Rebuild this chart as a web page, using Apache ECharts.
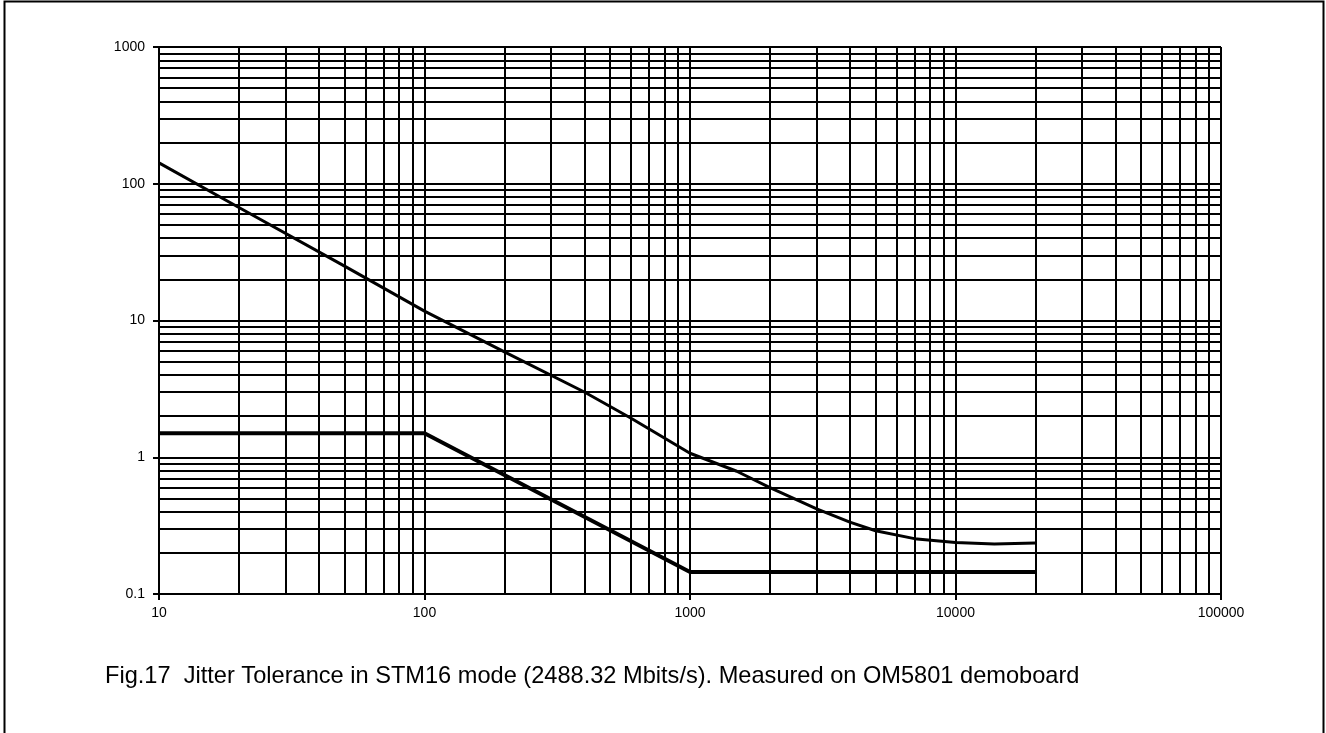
<!DOCTYPE html>
<html>
<head>
<meta charset="utf-8">
<script src="https://cdn.jsdelivr.net/npm/echarts@6/dist/echarts.min.js"></script>
<style>
html,body{margin:0;padding:0;background:#fff;}
#chart{width:1326px;height:733px;}
</style>
</head>
<body>
<div id="chart"></div>
<script>
// ---- data ----
const freqUpper = [10, 20, 50, 100, 200, 400, 600, 1000, 1500, 2000, 3000, 4000, 5000, 7000, 10000, 14000, 20000];
const jitterUpper = [142, 67, 25, 11.7, 5.9, 3.0, 1.93, 1.07, 0.79, 0.6, 0.42, 0.335, 0.29, 0.254, 0.238, 0.232, 0.236];
const freqLower = [10, 100, 1000, 20000];
const jitterLower = [1.5, 1.5, 0.145, 0.145];
const xMinorGrid = [20,30,40,50,60,70,80,90,200,300,400,500,600,700,800,900,2000,3000,4000,5000,6000,7000,8000,9000,20000,30000,40000,50000,60000,70000,80000,90000];
const yMinorGrid = [0.2,0.3,0.4,0.5,0.6,0.7,0.8,0.9,2,3,4,5,6,7,8,9,20,30,40,50,60,70,80,90,200,300,400,500,600,700,800,900];
const xTickLabels = ['10','100','1000','10000','100000'];
const yTickLabels = ['0.1','1','10','100','1000'];
const caption = 'Fig.17  Jitter Tolerance in STM16 mode (2488.32 Mbits/s). Measured on OM5801 demoboard';

const font = "'Liberation Sans', Arial, sans-serif";
const chart = echarts.init(document.getElementById('chart'), null, {renderer: 'canvas'});

const gridLine = {color: '#000', width: 2, type: 'solid'};
const markData = xMinorGrid.map(v => ({xAxis: v})).concat(yMinorGrid.map(v => ({yAxis: v})));

function fmt(list) {
  return function (v) {
    for (const s of list) { if (Math.abs(parseFloat(s) - v) / v < 1e-6) return s; }
    return '';
  };
}

chart.setOption({
  animation: false,
  backgroundColor: '#fff',
  grid: {left: 159, right: 105, top: 47, bottom: 139, containLabel: false},
  xAxis: {
    type: 'log', logBase: 10, min: 10, max: 100000,
    axisLine: {show: true, lineStyle: {color: '#000', width: 2}},
    axisTick: {show: true, length: 6, inside: false, lineStyle: {color: '#000', width: 2}},
    axisLabel: {color: '#000', fontSize: 14, fontFamily: font, margin: 12, formatter: fmt(xTickLabels)},
    splitLine: {show: true, lineStyle: gridLine},
    minorTick: {show: false}
  },
  yAxis: {
    type: 'log', logBase: 10, min: 0.1, max: 1000,
    axisLine: {show: true, lineStyle: {color: '#000', width: 2}},
    axisTick: {show: true, length: 6, inside: false, lineStyle: {color: '#000', width: 2}},
    axisLabel: {color: '#000', fontSize: 14, fontFamily: font, margin: 14, formatter: fmt(yTickLabels)},
    splitLine: {show: true, lineStyle: gridLine}
  },
  series: [
    {
      type: 'line',
      data: [],
      silent: true,
      markLine: {
        silent: true,
        symbol: ['none', 'none'],
        label: {show: false},
        lineStyle: gridLine,
        emphasis: {disabled: true},
        animation: false,
        data: markData
      },
      z: 1
    },
    {
      type: 'line',
      data: freqUpper.map((f, i) => [f, jitterUpper[i]]),
      showSymbol: false,
      smooth: false,
      lineStyle: {color: '#000', width: 3},
      z: 3
    },
    {
      type: 'line',
      data: freqLower.map((f, i) => [f, jitterLower[i]]),
      showSymbol: false,
      lineStyle: {color: '#000', width: 4},
      z: 3
    }
  ],
  graphic: [
    {
      type: 'rect',
      shape: {x: 4.5, y: 1.5, width: 1319, height: 760},
      style: {fill: 'none', stroke: '#000', lineWidth: 2},
      silent: true
    },
    {
      type: 'text',
      left: 105,
      top: 664,
      style: {text: caption, fill: '#000', font: "23.6px 'Liberation Sans', Arial, sans-serif"}
    }
  ]
});
</script>
</body>
</html>
